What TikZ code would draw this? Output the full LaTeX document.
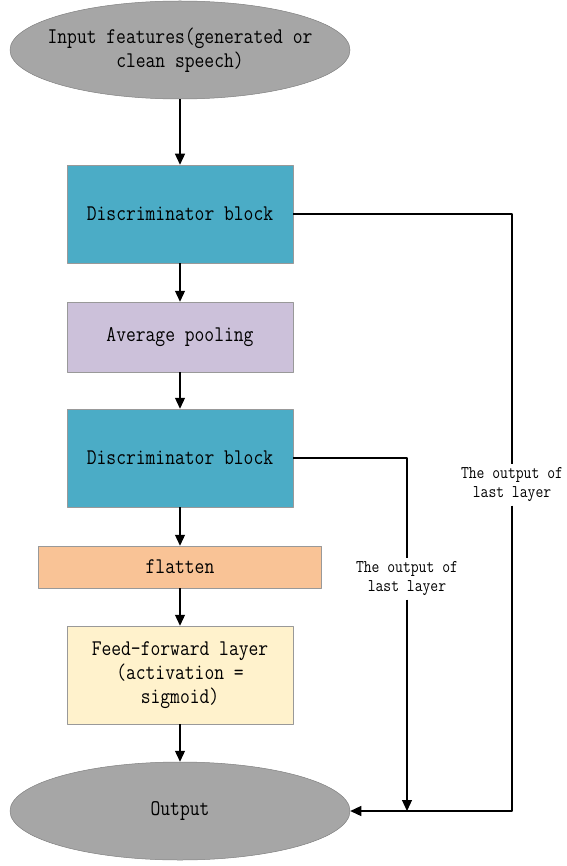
\documentclass[tikz,border=0pt]{standalone}
\usepackage{fontspec}
\setmonofont{Latin Modern Mono}[FakeStretch=0.85]
\usetikzlibrary{shapes.geometric,arrows.meta}
\definecolor{blkblue}{HTML}{4BACC6}
\definecolor{poolpurple}{HTML}{CCC1DA}
\definecolor{flatorange}{HTML}{F9C396}
\definecolor{ffyellow}{HTML}{FFF2CC}
\definecolor{ovalgray}{HTML}{A6A6A6}
\begin{document}
\begin{tikzpicture}[x=1pt,y=-1pt,>={Triangle[length=11pt,width=10pt]},line join=round,line width=1.2pt,
  font=\ttfamily\fontsize{22.4}{24}\selectfont,
  blk/.style={draw=black!40,line width=.5pt,minimum width=226pt,align=center,inner sep=0pt},
  oval/.style={ellipse,draw=black!50,line width=.5pt,fill=ovalgray,minimum width=340pt,minimum height=98pt,inner sep=0pt},
  lab/.style={font=\ttfamily\fontsize{17.9}{19}\selectfont,align=center,inner sep=3pt}]
\useasboundingbox (0,0) rectangle (566,866);
% main column
\node[oval] (in) at (180,50) {};
\node[align=center] (in-t) at (in) {Input features(generated or\\clean speech)};
\node[blk,fill=blkblue,minimum height=98pt] (disc1) at (180,214) {Discriminator block};
\node[blk,fill=poolpurple,minimum height=70pt] (pool) at (180,337) {Average pooling};
\node[blk,fill=blkblue,minimum height=98pt] (disc2) at (180,458) {Discriminator block};
\node[blk,fill=flatorange,minimum width=283pt,minimum height=42pt] (flat) at (180,567) {flatten};
\node[blk,fill=ffyellow,minimum height=98pt] (ffn) at (180,675) {Feed-forward layer\\(activation =\\sigmoid)};
\node[oval] (out) at (180,811) {Output};
\draw[->] (in) -- (disc1);
\draw[->] (disc1) -- (pool);
\draw[->] (pool) -- (disc2);
\draw[->] (disc2) -- (flat);
\draw[->] (flat) -- (ffn);
\draw[->] (ffn) -- (out);
% skip outputs
\node[lab] (lab1) at (512,485) {The output of\\last layer};
\node[lab] (lab2) at (407,579) {The output of\\last layer};
\draw (disc1.east) -| (lab1);
\draw[->] (lab1) |- (out.east);
\draw (disc2.east) -| (lab2);
\draw[->] (lab2) -- (lab2 |- out.east);
\end{tikzpicture}
\end{document}
